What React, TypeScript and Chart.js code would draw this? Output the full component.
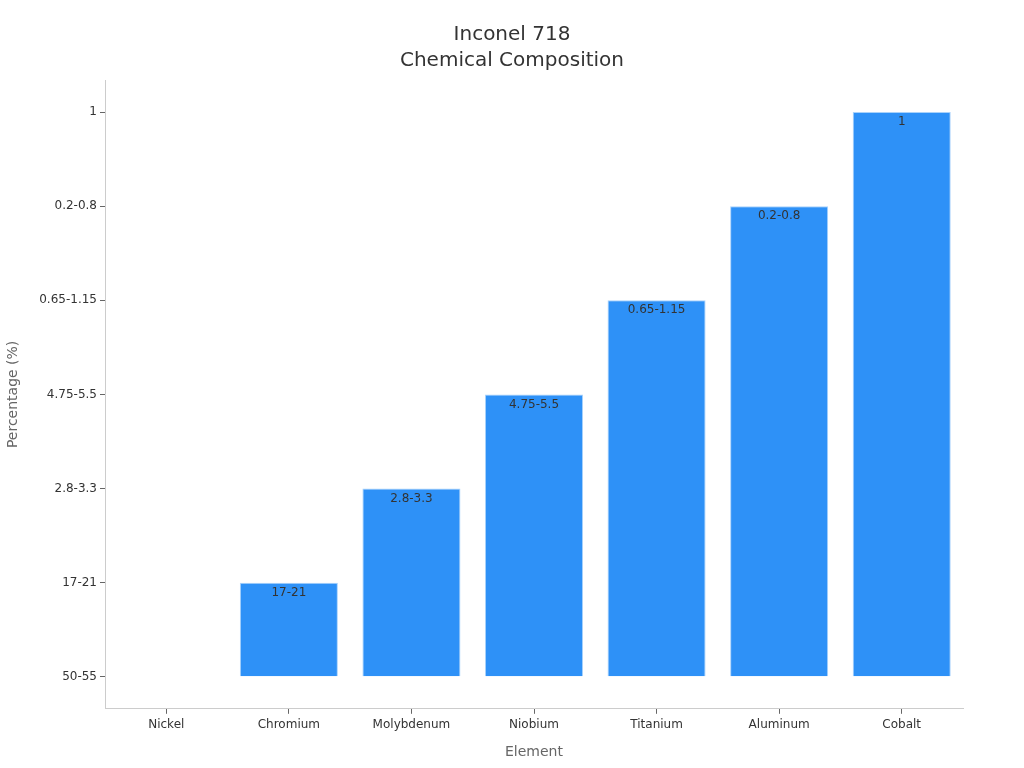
import React, { useEffect, useRef } from "react";
import { Chart, registerables } from "chart.js";

Chart.register(...registerables);

const elements = ["Nickel", "Chromium", "Molybdenum", "Niobium", "Titanium", "Aluminum", "Cobalt"];
const compositionLevels = ["50-55", "17-21", "2.8-3.3", "4.75-5.5", "0.65-1.15", "0.2-0.8", "1"];
const compositions = ["50-55", "17-21", "2.8-3.3", "4.75-5.5", "0.65-1.15", "0.2-0.8", "1"];

const FONT = "'DejaVu Sans', sans-serif";

const labelPlugin = {
  id: "barLabels",
  afterDatasetsDraw(chart: any) {
    const { ctx } = chart;
    const meta = chart.getDatasetMeta(0);
    ctx.save();
    ctx.font = `12px ${FONT}`;
    ctx.fillStyle = "#333333";
    ctx.textAlign = "center";
    ctx.textBaseline = "middle";
    meta.data.forEach((bar: any, i: number) => {
      const v = chart.data.datasets[0].data[i];
      if (!v) return;
      ctx.fillText(compositions[i], bar.x, bar.y + 10);
    });
    ctx.restore();
  },
};

export default function App() {
  const ref = useRef<HTMLCanvasElement | null>(null);
  useEffect(() => {
    document.body.style.margin = "0";
    const values = compositions.map((c) => compositionLevels.indexOf(c));
    const chart = new Chart(ref.current!, {
      type: "bar",
      data: {
        labels: elements,
        datasets: [
          {
            data: values,
            backgroundColor: "#2E91F7",
            borderColor: "#A9D2FB",
            borderWidth: 1,
            barPercentage: 0.8,
            categoryPercentage: 1,
          },
        ],
      },
      plugins: [labelPlugin],
      options: {
        animation: false,
        responsive: false,
        maintainAspectRatio: false,
        layout: { padding: { left: 0, right: 0, top: 0, bottom: 7 } },
        plugins: {
          legend: { display: false },
          tooltip: { enabled: false },
          title: {
            display: true,
            text: ["Inconel 718", "Chemical Composition"],
            color: "#333333",
            font: { family: FONT, size: 20, weight: "normal", lineHeight: 1.3 },
            padding: { top: 22, bottom: 6 },
          },
        },
        scales: {
          x: {
            offset: true,
            grid: { display: true, drawOnChartArea: false, tickLength: 5, color: "#666666", offset: false },
            border: { display: true, color: "#cccccc" },
            ticks: { color: "#333333", font: { family: FONT, size: 12 }, padding: 4 },
            title: {
              display: true,
              text: "Element",
              color: "#666666",
              font: { family: FONT, size: 14 },
              padding: { top: 8, bottom: 0 },
            },
          },
          y: {
            min: -0.34,
            max: 6.34,
            afterBuildTicks(axis: any) {
              axis.ticks = compositionLevels.map((_, i) => ({ value: i }));
            },
            afterFit(axis: any) {
              axis.width = 105;
            },
            grid: { display: true, drawOnChartArea: false, tickLength: 5, color: "#666666" },
            border: { display: true, color: "#cccccc" },
            ticks: {
              color: "#333333",
              font: { family: FONT, size: 12 },
              padding: 3,
              callback: (v: any) => compositionLevels[Math.round(Number(v))] ?? "",
            },
            title: {
              display: true,
              text: "Percentage (%)",
              color: "#666666",
              font: { family: FONT, size: 14 },
              padding: { top: 5, bottom: 10 },
            },
          },
          yRight: {
            position: "right",
            display: true,
            grid: { display: false },
            border: { display: false },
            ticks: { display: false },
            afterFit(axis: any) {
              axis.width = 61;
            },
          },
        },
      },
    });
    return () => chart.destroy();
  }, []);
  return <canvas ref={ref} width={1024} height={768} style={{ display: "block" }} />;
}
